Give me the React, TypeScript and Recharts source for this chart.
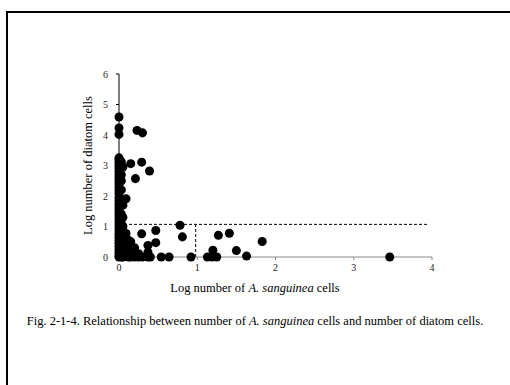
import { ScatterChart, Scatter, XAxis, YAxis, ReferenceLine, Label } from "recharts";

// log A. sanguinea cells (x) vs log diatom cells (y)
const xs = [
  0, 0, 0, 0, 0, 0, 0, 0, 0, 0, 0, 0, 0, 0, 0, 0, 0, 0, 0, 0, 0, 0, 0, 0, 0, 0, 0, 0, 0, 0, 0, 0, 0, 0, 0, 0, 0,
  0.03, 0.03, 0.03, 0.03, 0.03, 0.03, 0.03, 0.03, 0.03, 0.03, 0.03,
  0.05, 0.05, 0.05, 0.05, 0.05, 0.05, 0.05,
  0.09, 0.09, 0.09, 0.12, 0.12, 0.12, 0.15, 0.15, 0.15, 0.15, 0.2, 0.2, 0.25, 0.25, 0.3, 0.37, 0.37, 0.37, 0.4,
  0.23, 0.3, 0.15, 0.29, 0.39, 0.21,
  0.29, 0.47, 0.47, 0.78, 0.81, 0.54, 0.64, 0.92,
  1.13, 1.19, 1.25, 1.2, 1.27, 1.41, 1.5, 1.63, 1.83, 3.46,
];
const ys = [
  4.59, 4.23, 4.02, 3.25, 3.18, 3.1, 3.0, 2.9, 2.8, 2.7, 2.6, 2.5, 2.4, 2.3, 2.2, 2.08, 1.95, 1.85, 1.75, 1.65, 1.55, 1.45, 1.35, 1.25, 1.15, 1.05, 0.95, 0.85, 0.75, 0.65, 0.55, 0.45, 0.35, 0.25, 0.15, 0.05, 0,
  3.12, 2.7, 2.5, 2.2, 1.8, 1.4, 1.1, 0.9, 0.6, 0.3, 0,
  2.95, 1.7, 1.3, 1.0, 0.5, 0.2, 0,
  1.91, 0.77, 0.45, 0.55, 0.3, 0, 0.5, 0.25, 0.1, 0, 0.3, 0, 0.11, 0, 0, 0.38, 0.16, 0, 0,
  4.15, 4.07, 3.06, 3.11, 2.82, 2.57,
  0.76, 0.87, 0.47, 1.04, 0.66, 0, 0, 0,
  0, 0, 0, 0.22, 0.71, 0.78, 0.21, 0.03, 0.51, 0,
];
const xTicks = [0, 1, 2, 3, 4];
const yTicks = [0, 1, 2, 3, 4, 5, 6];
const cutX = 0.98;
const cutY = 1.07;

const points = xs.map((x, i) => ({ x, y: ys[i] }));

const serif = "'Liberation Serif', 'Times New Roman', serif";

export default function App() {
  return (
    <div style={{ position: "absolute", left: 0, top: 0, width: 510, height: 385, overflow: "hidden", background: "#fff", fontFamily: serif }}>
      <div style={{ position: "absolute", left: 6, top: 11, width: 540, height: 420, border: "2px solid #000" }} />
      <div style={{ position: "absolute", left: 0, top: 0 }}>
        <ScatterChart width={510} height={300} margin={{ top: 74, right: 78, left: 79, bottom: 13 }}>
          <XAxis
            type="number"
            dataKey="x"
            domain={[0, 4]}
            ticks={xTicks}
            stroke="#888"
            tickSize={3}
            tickMargin={4}
            tick={{ fill: "#222", fontSize: 10, fontFamily: serif }}
            height={30}
          />
          <YAxis
            type="number"
            dataKey="y"
            domain={[0, 6]}
            ticks={yTicks}
            stroke="#000"
            tickSize={3}
            tickMargin={8}
            tick={{ fill: "#222", fontSize: 10, fontFamily: serif }}
            axisLine={{ stroke: "#000" }}
            tickLine={{ stroke: "#000" }}
            width={40}
          >
            <Label
              value="Log number of diatom cells"
              angle={-90}
              position="insideLeft"
              offset={9}
              style={{ textAnchor: "middle", fontSize: 12.5, fill: "#000", fontFamily: serif }}
            />
          </YAxis>
          <ReferenceLine segment={[{ x: 0, y: cutY }, { x: 3.95, y: cutY }]} stroke="#000" strokeDasharray="3 2" />
          <ReferenceLine segment={[{ x: cutX, y: 0 }, { x: cutX, y: cutY }]} stroke="#000" strokeDasharray="3 2" />
          <Scatter data={points} fill="#000" isAnimationActive={false} />
        </ScatterChart>
      </div>
      <div style={{ position: "absolute", left: 0, width: 510, top: 281, textAlign: "center", fontSize: 12.5, color: "#000" }}>
        Log number of <i>A. sanguinea</i> cells
      </div>
      <div style={{ position: "absolute", left: 0, width: 510, top: 314, textAlign: "center", fontSize: 12.5, color: "#000" }}>
        Fig. 2-1-4. Relationship between number of <i>A. sanguinea</i> cells and number of diatom cells.
      </div>
    </div>
  );
}
